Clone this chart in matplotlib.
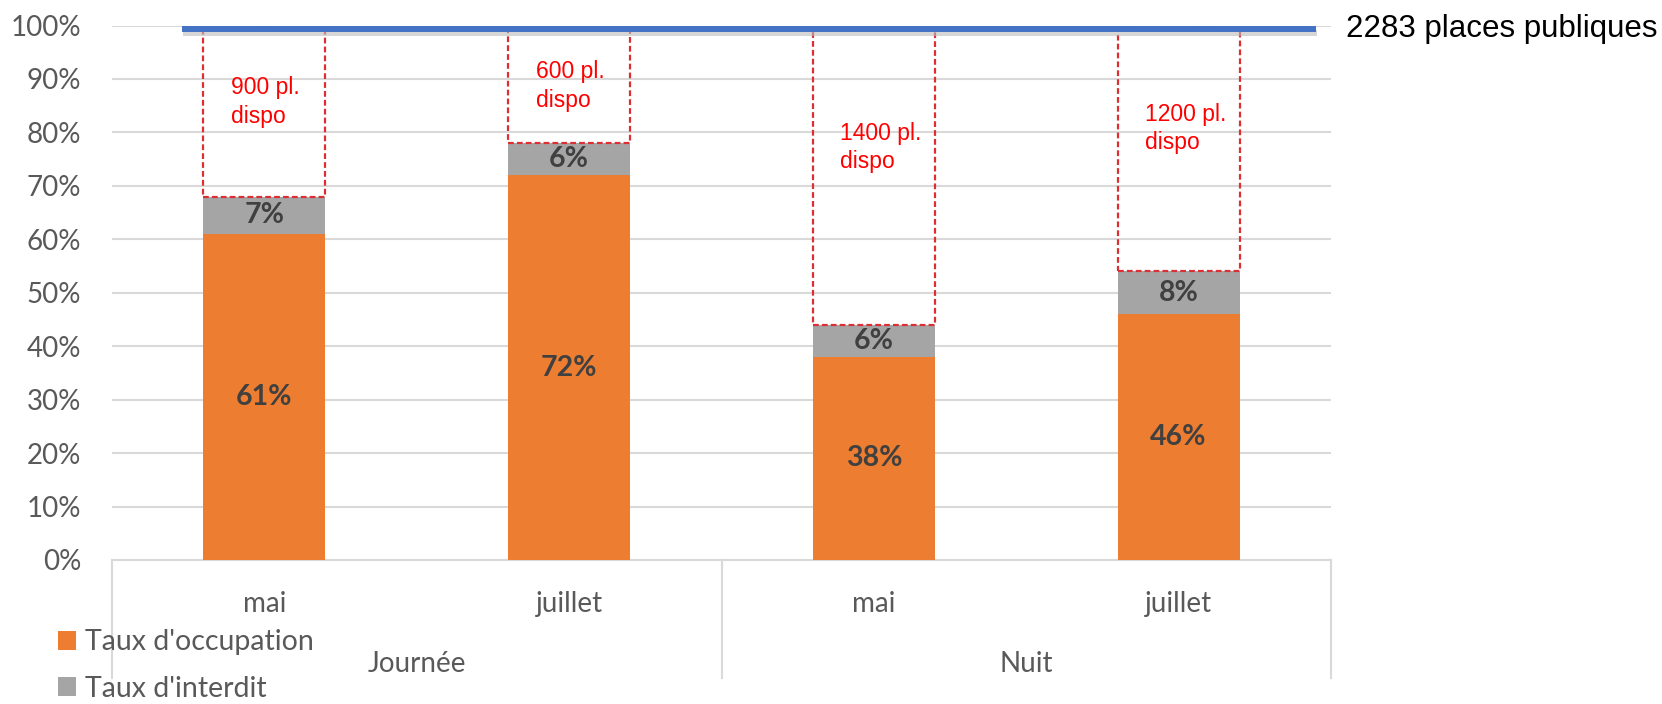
import matplotlib
matplotlib.use("Agg")
import matplotlib.pyplot as plt
import matplotlib.patheffects as pe
from matplotlib.transforms import blended_transform_factory
import numpy as np

# ---- data ----
months = ["mai", "juillet", "mai", "juillet"]
groups = ["Journée", "Nuit"]
occupation = [0.61, 0.72, 0.38, 0.46]
interdit = [0.07, 0.06, 0.06, 0.08]
dispo_labels = ["900 pl.\ndispo", "600 pl.\ndispo", "1400 pl.\ndispo", "1200 pl.\ndispo"]
dispo_label_y = [0.905, 0.935, 0.82, 0.855]
capacity_level = 0.993
capacity_label = "2283 places publiques"
series_names = ["Taux d'occupation", "Taux d'interdit"]
yticks = [0, 0.1, 0.2, 0.3, 0.4, 0.5, 0.6, 0.7, 0.8, 0.9, 1.0]

ORANGE = "#ED7D31"
GREY = "#A5A5A5"
BLUE = "#4472C4"
AXGREY = "#D9D9D9"
TXT = "#595959"
LFONT = ["Lato", "DejaVu Sans"]
AFONT = ["Liberation Sans", "DejaVu Sans"]

W, H = 1662, 704
fig = plt.figure(figsize=(W / 100, H / 100), dpi=100)
ax = fig.add_axes([112 / W, (H - 560) / H, (1331 - 112) / W, (560 - 25.5) / H])

x = np.arange(len(months))
bw = 0.4
occ = np.array(occupation)
inter = np.array(interdit)
tot = occ + inter

b1 = ax.bar(x, occ, bw, color=ORANGE, label=series_names[0], zorder=3)
b2 = ax.bar(x, inter, bw, bottom=occ, color=GREY, label=series_names[1], zorder=3)
ax.bar(x, 1 - tot, bw, bottom=tot, fill=False, edgecolor="#DC2F34",
       linestyle=(0, (2.6, 1.4)), linewidth=1.6, zorder=4)

for i in range(len(x)):
    ax.text(x[i], occ[i] / 2, f"{occ[i]*100:.0f}%", ha="center", va="center",
            fontsize=20.5, fontweight="bold", color="#404040", family=LFONT, zorder=5)
    ax.text(x[i], occ[i] + inter[i] / 2, f"{inter[i]*100:.0f}%", ha="center", va="center",
            fontsize=20.5, fontweight="bold", color="#404040", family=LFONT, zorder=5)
    ax.text(x[i] - bw / 2 + 0.09, dispo_label_y[i], dispo_labels[i], ha="left", va="top",
            fontsize=16.5, color="#FF0000", linespacing=1.3, family=AFONT, zorder=5)

# capacity line
ax.plot([-0.27, 3.45], [capacity_level, capacity_level], color=BLUE, linewidth=4.3,
        solid_capstyle="butt", zorder=6,
        path_effects=[pe.SimpleLineShadow(offset=(1, -3), shadow_color="#BBBBBB", alpha=0.6),
                      pe.Normal()])
ax.text(1.012, capacity_level, capacity_label,
        transform=blended_transform_factory(ax.transAxes, ax.transData),
        ha="left", va="center", fontsize=22.5, color="black",
        family=AFONT, clip_on=False)

ax.set_xlim(-0.5, 3.5)
ax.set_ylim(0, 1.0)
ax.set_yticks(yticks)
ax.set_yticklabels([f"{int(round(v*100))}%" for v in yticks], fontsize=20, color=TXT, family=LFONT)
ax.yaxis.grid(True, color=AXGREY, linewidth=1.5, zorder=0)
ax.set_axisbelow(True)
for s in ["top", "right", "left"]:
    ax.spines[s].set_visible(False)
ax.spines["bottom"].set_color(AXGREY)
ax.spines["bottom"].set_linewidth(1.5)
ax.tick_params(axis="y", length=0, pad=22)
ax.set_xticks(x)
ax.set_xticklabels(months, fontsize=20, color=TXT, family=LFONT)
ax.tick_params(axis="x", length=0, pad=22)

# multi-level category axis
tr = blended_transform_factory(ax.transData, ax.transAxes)
for xv in [-0.5, 1.5, 3.5]:
    ax.plot([xv, xv], [0, -0.221], color=AXGREY, linewidth=1.5, transform=tr, clip_on=False)
for gi, g in enumerate(groups):
    ax.text(0.5 + 2 * gi, -0.195, g, transform=tr, ha="center", va="center",
            fontsize=20, color=TXT, family=LFONT)

fig.legend(handles=[b1, b2], labels=series_names, loc="center left",
           bbox_to_anchor=(32 / W, 0.055), frameon=False,
           prop={"family": LFONT, "size": 20.5},
           handlelength=0.65, handleheight=0.65, handletextpad=0.3, labelspacing=0.72,
           labelcolor=TXT)

fig.savefig("out.png", dpi=100)
